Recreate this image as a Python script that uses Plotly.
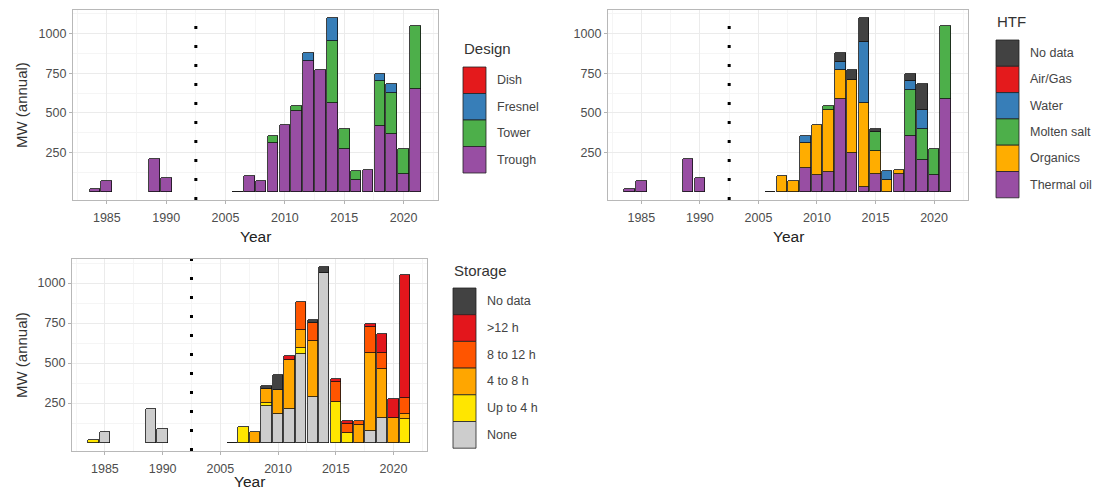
import plotly.graph_objects as go

# ---- data -------------------------------------------------------------
years = [1984, 1985, 1989, 1990,
         2006, 2007, 2008, 2009, 2010, 2011, 2012, 2013,
         2014, 2015, 2016, 2017, 2018, 2019, 2020, 2021]

# Design (MW added per year)
design_trough = [20, 70, 210, 90, 3, 100, 70, 310, 425, 515, 830, 770, 565, 275, 77, 140, 420, 367, 114, 650]
design_tower = [0, 0, 0, 0, 0, 0, 0, 45, 0, 30, 0, 0, 390, 123, 58, 0, 280, 260, 161, 400]
design_fresnel = [0, 0, 0, 0, 0, 0, 0, 0, 0, 0, 50, 0, 145, 0, 0, 0, 45, 53, 0, 0]
design_dish = [0] * 20

# Heat transfer fluid
htf_thermal_oil = [20, 70, 210, 90, 3, 0, 0, 155, 105, 125, 585, 250, 30, 115, 0, 115, 355, 200, 110, 590]
htf_organics = [0, 0, 0, 0, 0, 100, 70, 155, 320, 395, 185, 455, 535, 145, 75, 25, 0, 0, 0, 0]
htf_molten_salt = [0, 0, 0, 0, 0, 0, 0, 0, 0, 25, 0, 0, 0, 120, 0, 0, 290, 200, 165, 460]
htf_water = [0, 0, 0, 0, 0, 0, 0, 45, 0, 0, 50, 0, 385, 0, 60, 0, 55, 120, 0, 0]
htf_air_gas = [0] * 20
htf_no_data = [0, 0, 0, 0, 0, 0, 0, 0, 0, 0, 60, 65, 150, 18, 0, 0, 45, 160, 0, 0]

# Thermal storage
st_none = [0, 70, 210, 90, 3, 0, 0, 230, 180, 212, 556, 285, 1060, 0, 0, 0, 75, 155, 0, 0]
st_up_to_4 = [20, 0, 0, 0, 0, 100, 0, 20, 0, 0, 40, 0, 0, 255, 60, 0, 0, 0, 0, 150]
st_4_to_8 = [0, 0, 0, 0, 0, 0, 70, 85, 150, 308, 110, 355, 0, 0, 0, 110, 490, 310, 155, 30]
st_8_to_12 = [0, 0, 0, 0, 0, 0, 0, 0, 0, 0, 174, 110, 0, 125, 60, 30, 160, 100, 0, 100]
st_over_12 = [0, 0, 0, 0, 0, 0, 0, 0, 0, 25, 0, 0, 0, 18, 15, 0, 20, 115, 120, 770]
st_no_data = [0, 0, 0, 0, 0, 0, 0, 20, 95, 0, 0, 20, 40, 0, 0, 0, 0, 0, 0, 0]

tick_years = [1985, 1990, 2005, 2010, 2015, 2020]
y_ticks = [250, 500, 750, 1000]

# ---- broken year axis: the 1980s/90s block is pulled next to the 2000s ----
GAP = 10
def xpos(y):
    return y + GAP if y < 2000 else y

xs = [xpos(y) for y in years]
break_x = 2002.5

W, H = 1099, 490
FONT = "Liberation Sans, Arial, sans-serif"

# panel boxes in pixels: (left, top, right, bottom)
panels = {
    "design": (73, 10, 438, 200),
    "htf": (608, 10, 968, 200),
    "storage": (72, 259, 427, 451),
}

def px(x):
    return x / W

def py(y):
    return 1 - y / H

series = {
    "design": ("Design", [
        ("Trough", design_trough, "#984EA3"),
        ("Tower", design_tower, "#4DAF4A"),
        ("Fresnel", design_fresnel, "#377EB8"),
        ("Dish", design_dish, "#E41A1C"),
    ]),
    "htf": ("HTF", [
        ("Thermal oil", htf_thermal_oil, "#984EA3"),
        ("Organics", htf_organics, "#FFAD00"),
        ("Molten salt", htf_molten_salt, "#4DAF4A"),
        ("Water", htf_water, "#377EB8"),
        ("Air/Gas", htf_air_gas, "#E41A1C"),
        ("No data", htf_no_data, "#424242"),
    ]),
    "storage": ("Storage", [
        ("None", st_none, "#CDCDCD"),
        ("Up to 4 h", st_up_to_4, "#FFE600"),
        ("4 to 8 h", st_4_to_8, "#FFA600"),
        ("8 to 12 h", st_8_to_12, "#FF5500"),
        (">12 h", st_over_12, "#E3161C"),
        ("No data", st_no_data, "#424242"),
    ]),
}

legend_pos = {
    # key left, key top, key height
    "design": (463, 67, 26.5),
    "htf": (996, 40, 26.3),
    "storage": (453, 288, 26.7),
}

# where the "Year" title sits below each panel
year_title_offset = {"design": 36, "htf": 36, "storage": 30}

fig = go.Figure()
shapes = []
annotations = []
layout_axes = {}

for i, key in enumerate(["design", "htf", "storage"]):
    n = "" if i == 0 else str(i + 1)
    xa, ya = "x" + n, "y" + n
    left, top, right, bottom = panels[key]
    title, groups = series[key]

    for name, vals, color in groups:
        fig.add_trace(go.Bar(
            x=xs, y=[v if v else None for v in vals], name=name,
            width=0.9, xaxis=xa, yaxis=ya, showlegend=False,
            marker=dict(color=color, line=dict(color="#111111", width=0.8)),
        ))

    layout_axes["xaxis" + n] = dict(
        domain=[px(left), px(right)], anchor=ya,
        range=[1992.15, 2022.9],
        tickmode="array", tickvals=[xpos(t) for t in tick_years],
        ticktext=[str(t) for t in tick_years],
        ticks="outside", ticklen=3, tickcolor="#B3B3B3", tickwidth=1,
        ticklabelstandoff=3,
        tickfont=dict(family=FONT, size=12.5, color="#4D4D4D"),
        showgrid=True, gridcolor="#EBEBEB", gridwidth=1,
        minor=dict(tick0=1992.5, dtick=5, showgrid=True, gridcolor="#F5F5F5", gridwidth=0.6),
        showline=True, mirror=True, linecolor="#B8B8B8", linewidth=1.3,
        zeroline=False, fixedrange=True,
    )
    layout_axes["yaxis" + n] = dict(
        domain=[py(bottom), py(top)], anchor=xa,
        range=[-50, 1150],
        tickmode="array", tickvals=y_ticks, ticktext=[str(t) for t in y_ticks],
        ticks="outside", ticklen=3, tickcolor="#B3B3B3", tickwidth=1,
        tickfont=dict(family=FONT, size=12.5, color="#4D4D4D"),
        showgrid=True, gridcolor="#EBEBEB", gridwidth=1,
        minor=dict(tick0=125, dtick=250, showgrid=True, gridcolor="#F5F5F5", gridwidth=0.6),
        showline=True, mirror=True, linecolor="#B8B8B8", linewidth=1.3,
        zeroline=False, fixedrange=True,
    )

    # dotted marker of the axis break
    shapes.append(dict(
        type="line", xref=xa, yref=ya + " domain",
        x0=break_x, x1=break_x, y0=0, y1=1,
        line=dict(color="black", width=3, dash="3px,16px"),
    ))

    # axis titles
    annotations.append(dict(
        text="Year", xref="paper", yref="paper",
        x=px((left + right) / 2), y=py(bottom + year_title_offset[key]),
        xanchor="center", yanchor="middle",
        showarrow=False, font=dict(family=FONT, size=15.5, color="#222222"),
    ))
    if key != "htf":
        annotations.append(dict(
            text="MW (annual)", xref="paper", yref="paper", textangle=-90,
            x=px(21), y=py((top + bottom) / 2), xanchor="center", yanchor="middle",
            showarrow=False, font=dict(family=FONT, size=15, color="#333333"),
        ))

    # legend drawn as a column of keys
    kx, ky, kh = legend_pos[key]
    kw = 23
    annotations.append(dict(
        text=title, xref="paper", yref="paper",
        x=px(kx - 1), y=py(ky - 18), xanchor="left", yanchor="middle",
        showarrow=False, font=dict(family=FONT, size=15, color="#333333"),
    ))
    for j, (name, vals, color) in enumerate(reversed(groups)):
        y0 = ky + j * kh
        shapes.append(dict(
            type="rect", xref="paper", yref="paper",
            x0=px(kx), x1=px(kx + kw), y0=py(y0 + kh), y1=py(y0),
            fillcolor=color, line=dict(color="#222222", width=0.8),
        ))
        annotations.append(dict(
            text=name, xref="paper", yref="paper",
            x=px(kx + kw + 9), y=py(y0 + kh / 2), xanchor="left", yanchor="middle",
            showarrow=False, font=dict(family=FONT, size=12.5, color="#444444"),
        ))

fig.update_layout(
    width=W, height=H,
    margin=dict(l=0, r=0, t=0, b=0),
    paper_bgcolor="white", plot_bgcolor="white",
    barmode="stack", bargap=0,
    shapes=shapes, annotations=annotations,
    font=dict(family=FONT),
    **layout_axes,
)

fig.write_html("out.html")
